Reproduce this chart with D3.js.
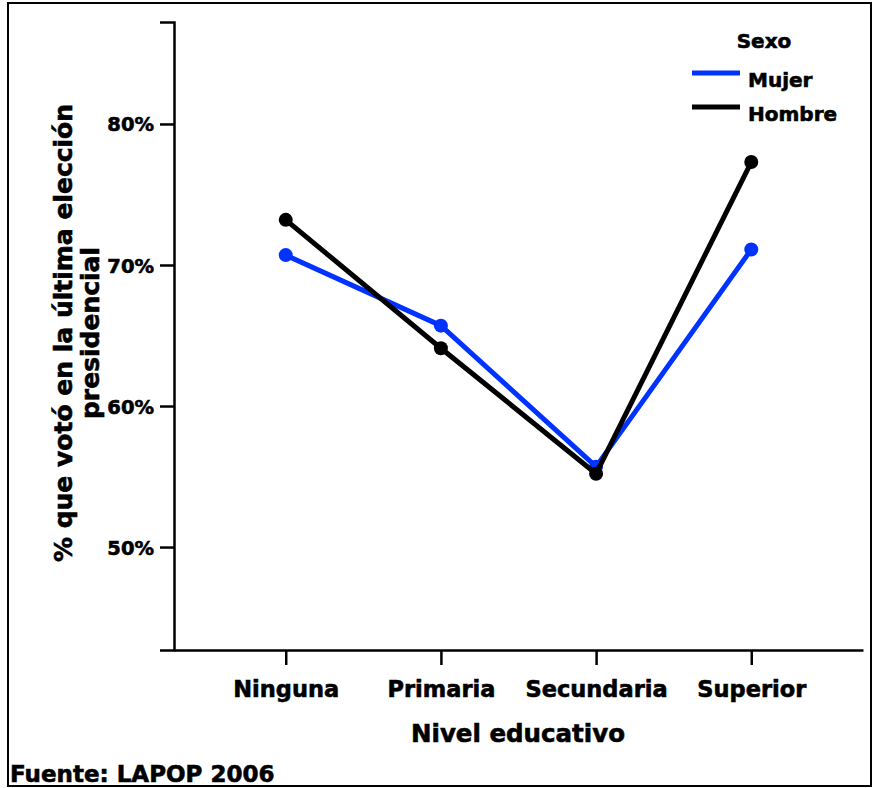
<!DOCTYPE html>
<html>
<head>
<meta charset="utf-8">
<script src="https://cdn.jsdelivr.net/npm/d3@7"></script>
<style>
  body { margin: 0; background: #fff; }
  text { font-family: "DejaVu Sans", sans-serif; font-weight: bold; fill: #000; stroke: #000; stroke-width: 0.6px; }
</style>
</head>
<body>
<script>
// data
var niveles = ["Ninguna", "Primaria", "Secundaria", "Superior"];
var mujer = [70.7, 65.7, 55.7, 71.1];
var hombre = [73.2, 64.1, 55.2, 77.3];
var yTicks = [50, 60, 70, 80];
var seriesNames = ["Mujer", "Hombre"];
var seriesColors = ["#0033ff", "#000000"];

var svg = d3.select("body").append("svg").attr("width", 873).attr("height", 788);

// outer frame
svg.append("rect")
    .attr("x", 8).attr("y", 3)
    .attr("width", 863).attr("height", 783)
    .attr("fill", "none").attr("stroke", "#000").attr("stroke-width", 2);

var x = d3.scalePoint().domain(niveles).range([174, 863]).padding(0.72);
var y = d3.scaleLinear().domain([42.7, 87.23]).range([650, 22]);

// y axis
var yAxis = svg.append("g")
    .attr("transform", "translate(174,0)")
    .call(d3.axisLeft(y).tickValues(yTicks).tickSize(14).tickPadding(6)
      .tickFormat(function(d) { return d + "%"; }));
yAxis.select(".domain").attr("stroke-width", 2.5);
yAxis.selectAll(".tick line").attr("stroke-width", 2.5);
yAxis.selectAll(".tick text").style("font-size", "19.5px").attr("dy", "0.36em");

// x axis
var xAxis = svg.append("g")
    .attr("transform", "translate(0,650)")
    .call(d3.axisBottom(x).tickSize(15).tickSizeOuter(0).tickPadding(16));
xAxis.select(".domain").attr("stroke-width", 2.5);
xAxis.selectAll(".tick line").attr("stroke-width", 2.5);
xAxis.selectAll(".tick text").style("font-size", "22.5px");

// axis titles
svg.append("text")
    .attr("x", 518).attr("y", 742)
    .attr("text-anchor", "middle")
    .style("font-size", "24.5px")
    .text("Nivel educativo");

var yTitle = svg.append("text")
    .attr("transform", "translate(0,333) rotate(-90)")
    .attr("text-anchor", "middle")
    .style("font-size", "25px");
yTitle.append("tspan").attr("x", 0).attr("y", 72).text("% que votó en la última elección");
yTitle.append("tspan").attr("x", 0).attr("y", 99).text("presidencial");

// source
svg.append("text")
    .attr("x", 10).attr("y", 782)
    .style("font-size", "23px")
    .text("Fuente: LAPOP 2006");

// lines and points
var line = d3.line()
    .x(function(d, i) { return x(niveles[i]); })
    .y(function(d) { return y(d); });

[mujer, hombre].forEach(function(vals, k) {
  svg.append("path")
      .datum(vals)
      .attr("d", line)
      .attr("fill", "none")
      .attr("stroke", seriesColors[k])
      .attr("stroke-width", 5)
      .attr("stroke-linejoin", "round");
  svg.selectAll(".dot" + k)
      .data(vals)
      .enter().append("circle")
      .attr("class", "dot" + k)
      .attr("cx", function(d, i) { return x(niveles[i]); })
      .attr("cy", function(d) { return y(d); })
      .attr("r", 7)
      .attr("fill", seriesColors[k]);
});

// legend
var legend = svg.append("g");
legend.append("text")
    .attr("x", 764).attr("y", 48)
    .attr("text-anchor", "middle")
    .style("font-size", "20px")
    .text("Sexo");
seriesNames.forEach(function(name, k) {
  var ly = 73 + k * 34;
  legend.append("line")
      .attr("x1", 692).attr("x2", 740)
      .attr("y1", ly).attr("y2", ly)
      .attr("stroke", seriesColors[k]).attr("stroke-width", 5);
  legend.append("text")
      .attr("x", 748).attr("y", ly + 14)
      .style("font-size", "20px")
      .text(name);
});
</script>
</body>
</html>
